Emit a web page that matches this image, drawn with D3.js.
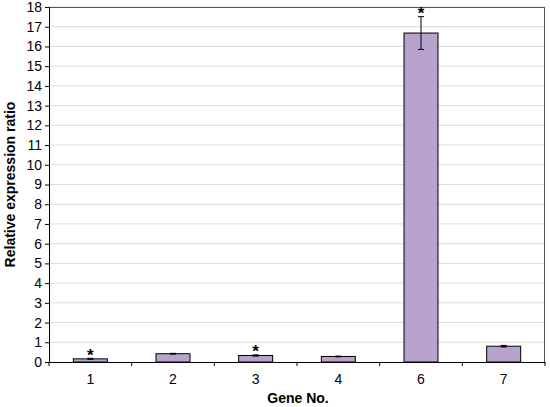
<!DOCTYPE html>
<html><head><meta charset="utf-8">
<script src="https://cdn.jsdelivr.net/npm/d3@7"></script>
<style>body{margin:0;background:#fff;} text{font-family:"Liberation Sans",Arial,sans-serif;}</style>
</head><body>
<svg id="c" width="550" height="407"></svg>
<script>
const genes = ["1","2","3","4","6","7"];
const values = [0.16, 0.42, 0.33, 0.28, 16.68, 0.80];
const errors = [0.03, 0.02, 0.03, 0.02, 0.83, 0.04];
const significant = [true, false, true, false, true, false];
const yTicks = d3.range(0, 19, 1);

const svg = d3.select("#c");
const m = {l:49, r:545, t:7, b:362};
const x = d3.scaleBand().domain(genes).range([m.l, m.r]).padding(0);
const y = d3.scaleLinear().domain([0,18]).range([m.b, m.t]);
const FF = '"Liberation Sans",Arial,sans-serif';

// gridlines
svg.append("g").selectAll("line").data(yTicks.slice(1)).join("line")
  .attr("x1", m.l).attr("x2", m.r)
  .attr("y1", d=>y(d)).attr("y2", d=>y(d))
  .attr("stroke", "#dcdcdc").attr("stroke-width", 1);

// frame (top/right)
svg.append("line").attr("x1", m.l).attr("x2", m.r).attr("y1", m.t+0.5).attr("y2", m.t+0.5).attr("stroke","#555");
svg.append("line").attr("x1", m.r-0.5).attr("x2", m.r-0.5).attr("y1", m.t).attr("y2", m.b).attr("stroke","#555");

// y axis
const ya = svg.append("g").attr("transform", `translate(${m.l},0)`)
  .call(d3.axisLeft(y).tickValues(yTicks).tickSize(4).tickSizeOuter(0).tickFormat(d3.format("d")));
ya.select(".domain").attr("stroke","#000");
ya.selectAll(".tick line").attr("stroke","#000");
ya.selectAll(".tick text").attr("fill","#000").attr("x",-7)
  .style("font-family",FF).style("font-size","14px");

// x axis
const xa = svg.append("g").attr("transform", `translate(0,${m.b})`)
  .call(d3.axisBottom(x).tickSize(0).tickSizeOuter(0));
xa.select(".domain").attr("stroke","#000");
xa.selectAll(".tick text").attr("fill","#000").attr("y",0).attr("dy","1.55em")
  .style("font-family",FF).style("font-size","14px");
// boundary ticks
const bounds = genes.map(g=>x(g)).concat([m.r]);
svg.append("g").selectAll("line").data(bounds).join("line")
  .attr("x1", d=>d).attr("x2", d=>d).attr("y1", m.b).attr("y2", m.b+4)
  .attr("stroke","#000");

// bars
const bw = 34;
const cx = g => x(g) + x.bandwidth()/2;
svg.append("g").selectAll("rect").data(genes).join("rect")
  .attr("x", (g)=>cx(g)-bw/2).attr("width", bw)
  .attr("y", (g,i)=>y(values[i])).attr("height", (g,i)=>y(0)-y(values[i]))
  .attr("fill","#b7a3cc").attr("stroke","#000").attr("stroke-width",1);

// error bars
const eg = svg.append("g").attr("stroke","#000").attr("stroke-width",1);
genes.forEach((g,i)=>{
  const c = cx(g);
  eg.append("line").attr("x1",c).attr("x2",c).attr("y1",y(values[i]-errors[i])).attr("y2",y(values[i]+errors[i]));
  [values[i]-errors[i], values[i]+errors[i]].forEach(v=>{
    eg.append("line").attr("x1",c-3).attr("x2",c+3).attr("y1",y(v)).attr("y2",y(v));
  });
});

// asterisks
svg.append("g").selectAll("text").data(genes.filter((g,i)=>significant[i])).join("text")
  .attr("x", g=>cx(g)).attr("y", g=>{const i=genes.indexOf(g); return y(values[i]+errors[i])-1;})
  .attr("text-anchor","middle").attr("font-size",17).attr("font-weight","bold").attr("dy","0.55em")
  .attr("transform", "translate(0,-6)")
  .text("*");

// axis titles
svg.append("text").attr("x", 298).attr("y", 403).attr("text-anchor","middle")
  .style("font-size","14px").attr("font-weight","bold").text("Gene No.");
svg.append("text").attr("transform", `translate(15,${(m.t+m.b)/2}) rotate(-90)`).attr("text-anchor","middle")
  .style("font-size","14px").attr("font-weight","bold").text("Relative expression ratio");
</script>
</body></html>
